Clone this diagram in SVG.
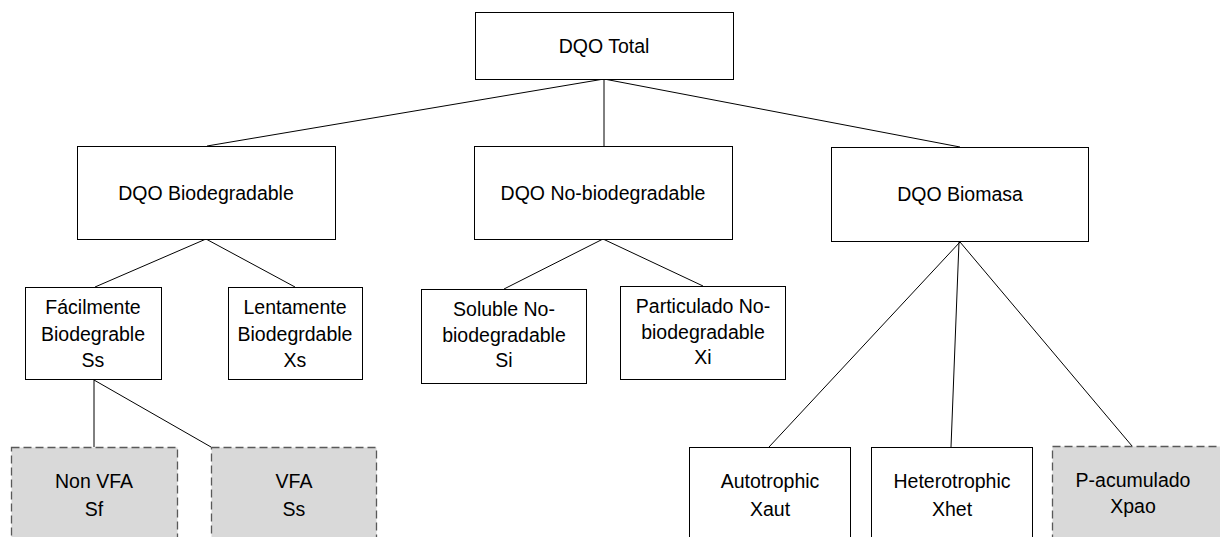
<svg xmlns="http://www.w3.org/2000/svg" width="1220" height="537" viewBox="0 0 1220 537">
<style>
.box{fill:#ffffff;stroke:#000000;stroke-width:1}
.dash{fill:#d9d9d9;stroke:#595959;stroke-width:1.3;stroke-dasharray:8 4}
.t{font-family:"Liberation Sans",Arial,sans-serif;font-size:19.5px;fill:#000000;text-anchor:middle}
.c{stroke:#000000;stroke-width:1;fill:none}
</style>
<rect x="0" y="0" width="1220" height="537" fill="#ffffff"/>
<g id="connectors">
<line class="c" x1="604" y1="79" x2="207" y2="146"/>
<line class="c" x1="604" y1="79" x2="604" y2="146"/>
<line class="c" x1="604" y1="79" x2="960" y2="147"/>
<line class="c" x1="206" y1="239" x2="95" y2="287"/>
<line class="c" x1="206" y1="239" x2="295" y2="287"/>
<line class="c" x1="603" y1="239" x2="504" y2="289"/>
<line class="c" x1="603" y1="239" x2="703" y2="286"/>
<line class="c" x1="94" y1="380" x2="94" y2="447"/>
<line class="c" x1="94" y1="380" x2="211" y2="447"/>
<line class="c" x1="960" y1="242" x2="769" y2="447"/>
<line class="c" x1="959" y1="242" x2="951" y2="447"/>
<line class="c" x1="960" y1="242" x2="1132" y2="446"/>
</g>
<g id="total">
<rect class="box" x="475.5" y="12.5" width="258" height="67"/>
<text class="t" x="604" y="53">DQO Total</text>
</g>
<g id="biodegradable">
<rect class="box" x="77.5" y="146.5" width="258" height="93"/>
<text class="t" x="206" y="200">DQO Biodegradable</text>
</g>
<g id="nobiodegradable">
<rect class="box" x="474.5" y="146.5" width="258" height="93"/>
<text class="t" x="603" y="200">DQO No-biodegradable</text>
</g>
<g id="biomasa">
<rect class="box" x="831.5" y="147.5" width="257" height="94"/>
<text class="t" x="960" y="201">DQO Biomasa</text>
</g>
<g id="facilmente">
<rect class="box" x="25.5" y="287.5" width="136" height="92"/>
<text class="t" x="93" y="314">Fácilmente</text>
<text class="t" x="93" y="341">Biodegrable</text>
<text class="t" x="93" y="367">Ss</text>
</g>
<g id="lentamente">
<rect class="box" x="228.5" y="287.5" width="134" height="92"/>
<text class="t" x="295" y="314">Lentamente</text>
<text class="t" x="295" y="341">Biodegrdable</text>
<text class="t" x="295" y="367">Xs</text>
</g>
<g id="soluble">
<rect class="box" x="421.5" y="289.5" width="165" height="94"/>
<text class="t" x="504" y="316">Soluble No-</text>
<text class="t" x="504" y="342">biodegradable</text>
<text class="t" x="504" y="367">Si</text>
</g>
<g id="particulado">
<rect class="box" x="620.5" y="286.5" width="165" height="93"/>
<text class="t" x="703" y="313">Particulado No-</text>
<text class="t" x="703" y="339">biodegradable</text>
<text class="t" x="703" y="364">Xi</text>
</g>
<g id="nonvfa">
<rect class="dash" x="11.5" y="447.5" width="166" height="100"/>
<text class="t" x="94" y="488">Non VFA</text>
<text class="t" x="94" y="516">Sf</text>
</g>
<g id="vfa">
<rect class="dash" x="211.5" y="447.5" width="165" height="100"/>
<text class="t" x="294" y="488">VFA</text>
<text class="t" x="294" y="516">Ss</text>
</g>
<g id="autotrophic">
<rect class="box" x="689.5" y="447.5" width="161" height="100"/>
<text class="t" x="770" y="488">Autotrophic</text>
<text class="t" x="770" y="516">Xaut</text>
</g>
<g id="heterotrophic">
<rect class="box" x="871.5" y="447.5" width="161" height="100"/>
<text class="t" x="952" y="488">Heterotrophic</text>
<text class="t" x="952" y="516">Xhet</text>
</g>
<g id="pacumulado">
<rect class="dash" x="1052.5" y="446.5" width="170" height="100"/>
<text class="t" x="1133" y="487">P-acumulado</text>
<text class="t" x="1133" y="513">Xpao</text>
</g>
</svg>
